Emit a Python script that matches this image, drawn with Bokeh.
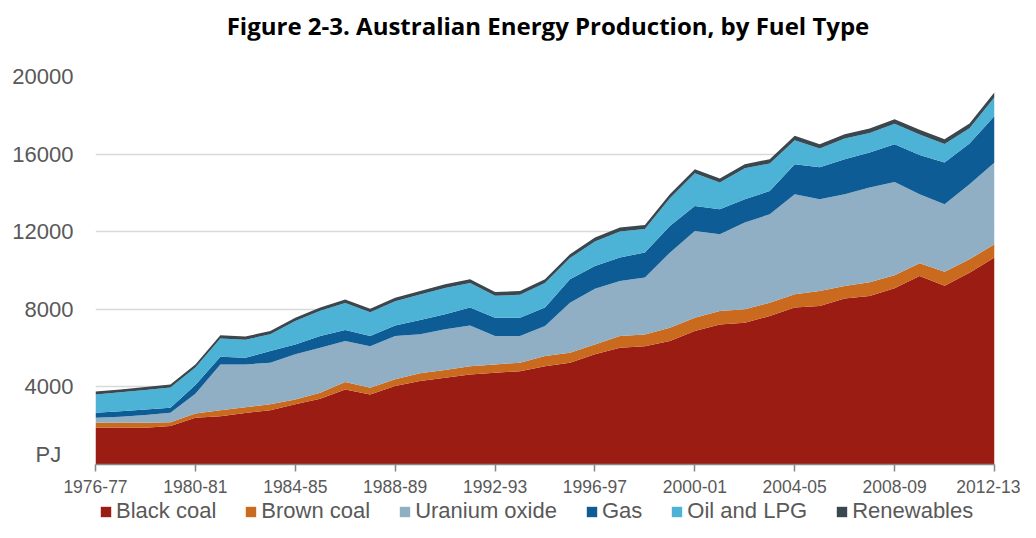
from bokeh.plotting import figure
from bokeh.layouts import column
from bokeh.models import ColumnDataSource, FixedTicker, Legend, LegendItem, Range1d, Div
from bokeh.embed import file_html
from bokeh.resources import INLINE

years = ["1976-77", "1977-78", "1978-79", "1979-80", "1980-81", "1981-82", "1982-83",
         "1983-84", "1984-85", "1985-86", "1986-87", "1987-88", "1988-89", "1989-90",
         "1990-91", "1991-92", "1992-93", "1993-94", "1994-95", "1995-96", "1996-97",
         "1997-98", "1998-99", "1999-00", "2000-01", "2001-02", "2002-03", "2003-04",
         "2004-05", "2005-06", "2006-07", "2007-08", "2008-09", "2009-10", "2010-11",
         "2011-12", "2012-13"]

black_coal = [1890, 1910, 1900, 1980, 2410, 2490, 2650, 2800, 3100, 3390, 3870, 3610,
              4040, 4300, 4470, 4640, 4730, 4810, 5070, 5250, 5680, 6020, 6100, 6360,
              6880, 7220, 7310, 7650, 8090, 8170, 8560, 8690, 9080, 9720, 9220, 9890, 10670]
brown_coal = [260, 250, 250, 200, 220, 310, 300, 300, 250, 310, 380, 350,
              350, 400, 400, 430, 430, 440, 520, 510, 510, 600, 600, 690,
              690, 690, 690, 690, 680, 770, 640, 700, 680, 660, 720, 690, 680]
uranium = [260, 300, 400, 490, 1020, 2360, 2210, 2150, 2330, 2320, 2110, 2140,
           2230, 2010, 2100, 2100, 1460, 1370, 1550, 2580, 2870, 2840, 2940, 3870,
           4470, 3960, 4470, 4560, 5160, 4730, 4730, 4890, 4800, 3550, 3480, 3870, 4220]
gas = [260, 290, 280, 260, 450, 400, 340, 600, 510, 600, 570, 520,
       550, 740, 770, 920, 950, 950, 950, 1210, 1170, 1210, 1290, 1380,
       1290, 1290, 1200, 1200, 1550, 1650, 1810, 1800, 1950, 2020, 2150, 2100, 2400]
oil_lpg = [940, 970, 1015, 1040, 900, 940, 935, 860, 1210, 1300, 1400, 1230,
           1250, 1310, 1360, 1270, 1130, 1180, 1265, 1090, 1270, 1340, 1215, 1420,
           1680, 1370, 1595, 1420, 1240, 965, 1060, 1010, 1050, 1060, 950, 780, 960]
renewables = [150, 152, 155, 158, 160, 163, 165, 168, 170, 172, 176, 178,
              181, 183, 186, 188, 190, 192, 195, 198, 200, 203, 205, 208,
              210, 212, 215, 220, 222, 225, 228, 232, 238, 242, 248, 252, 258]

series_names = ["Black coal", "Brown coal", "Uranium oxide", "Gas", "Oil and LPG", "Renewables"]
series_keys = ["black", "brown", "uranium", "gas", "oil", "renew"]
colors = ["#9b1c13", "#c96a1f", "#90afc5", "#0d5c96", "#4cb3d6", "#3b474f"]
tick_years = ["1976-77", "1980-81", "1984-85", "1988-89", "1992-93", "1996-97",
              "2000-01", "2004-05", "2008-09", "2012-13"]
y_ticks = [4000, 8000, 12000, 16000, 20000]
unit_label = "PJ"
title_text = "Figure 2-3. Australian Energy Production, by Fuel Type"

xs = list(range(len(years)))
source = ColumnDataSource(dict(x=xs, black=black_coal, brown=brown_coal, uranium=uranium,
                               gas=gas, oil=oil_lpg, renew=renewables))

title_div = Div(text=title_text, width=1020, height=40, margin=0,
                styles={"font-family": "Open Sans", "font-weight": "bold", "font-size": "24px",
                        "line-height": "24px", "text-align": "center", "color": "#000000",
                        "padding-top": "14px", "padding-left": "76px", "box-sizing": "border-box"})

p = figure(width=1020, height=459, output_backend="svg", toolbar_location=None,
           x_range=Range1d(0, len(years) - 1), y_range=Range1d(0, 20000),
           min_border_left=95, min_border_right=26, min_border_top=36, min_border_bottom=35)
p.background_fill_color = "white"
p.outline_line_color = None

renderers = p.varea_stack(stackers=series_keys, x="x", color=colors, source=source)

# grid
p.xgrid.grid_line_color = None
p.ygrid.ticker = FixedTicker(ticks=y_ticks)
p.ygrid.grid_line_color = "#d9d9d9"
p.ygrid.grid_line_width = 1.5
p.ygrid.level = "underlay"

# y axis (unit label shown just above the baseline)
p.yaxis.ticker = FixedTicker(ticks=[520] + y_ticks)
p.yaxis.major_label_overrides = {520: unit_label + "\u00a0\u00a0"}
p.yaxis.axis_line_color = None
p.yaxis.major_tick_line_color = None
p.yaxis.minor_tick_line_color = None
p.yaxis.major_tick_out = 0
p.yaxis.major_tick_in = 0
p.yaxis.major_label_standoff = 22
p.yaxis.major_label_text_font = "Liberation Sans"
p.yaxis.major_label_text_font_size = "22px"
p.yaxis.major_label_text_color = "#595959"

# x axis
tick_pos = [years.index(t) for t in tick_years]
p.xaxis.ticker = FixedTicker(ticks=tick_pos)
p.xaxis.major_label_overrides = {i: years[i] for i in tick_pos}
p.xaxis.axis_line_color = "#868686"
p.xaxis.axis_line_width = 1.5
p.xaxis.major_tick_line_color = "#868686"
p.xaxis.major_tick_line_width = 1.5
p.xaxis.major_tick_out = 7
p.xaxis.major_tick_in = 0
p.xaxis.minor_tick_line_color = None
p.xaxis.major_label_standoff = 8
p.xaxis.major_label_text_font = "Liberation Sans"
p.xaxis.major_label_text_font_size = "17.5px"
p.xaxis.major_label_text_color = "#595959"

# legend strip below the chart (hidden copies of the stacked areas act as swatches)
leg = figure(width=1020, height=23, output_backend="svg", toolbar_location=None,
             x_axis_location=None, y_axis_location=None, min_border=0,
             x_range=Range1d(0, 1), y_range=Range1d(0, 1))
leg.outline_line_color = None
leg.xgrid.visible = False
leg.ygrid.visible = False
swatches = leg.varea_stack(stackers=series_keys, x="x", color=colors, source=source)
for r in swatches:
    r.visible = False
legend = Legend(items=[LegendItem(label=n, renderers=[r]) for n, r in zip(series_names, swatches)],
                orientation="horizontal", location=(4, -2),
                glyph_width=13, glyph_height=13, label_standoff=4, spacing=28,
                padding=0, margin=0, label_height=20,
                label_text_font="Liberation Sans", label_text_font_size="22px",
                label_text_color="#595959", label_text_baseline="middle",
                inactive_fill_alpha=0, click_policy="none",
                background_fill_alpha=0, border_line_alpha=0)
leg.add_layout(legend)

layout = column(title_div, p, leg, spacing=0)
open("out.html", "w").write(file_html(layout, INLINE))
